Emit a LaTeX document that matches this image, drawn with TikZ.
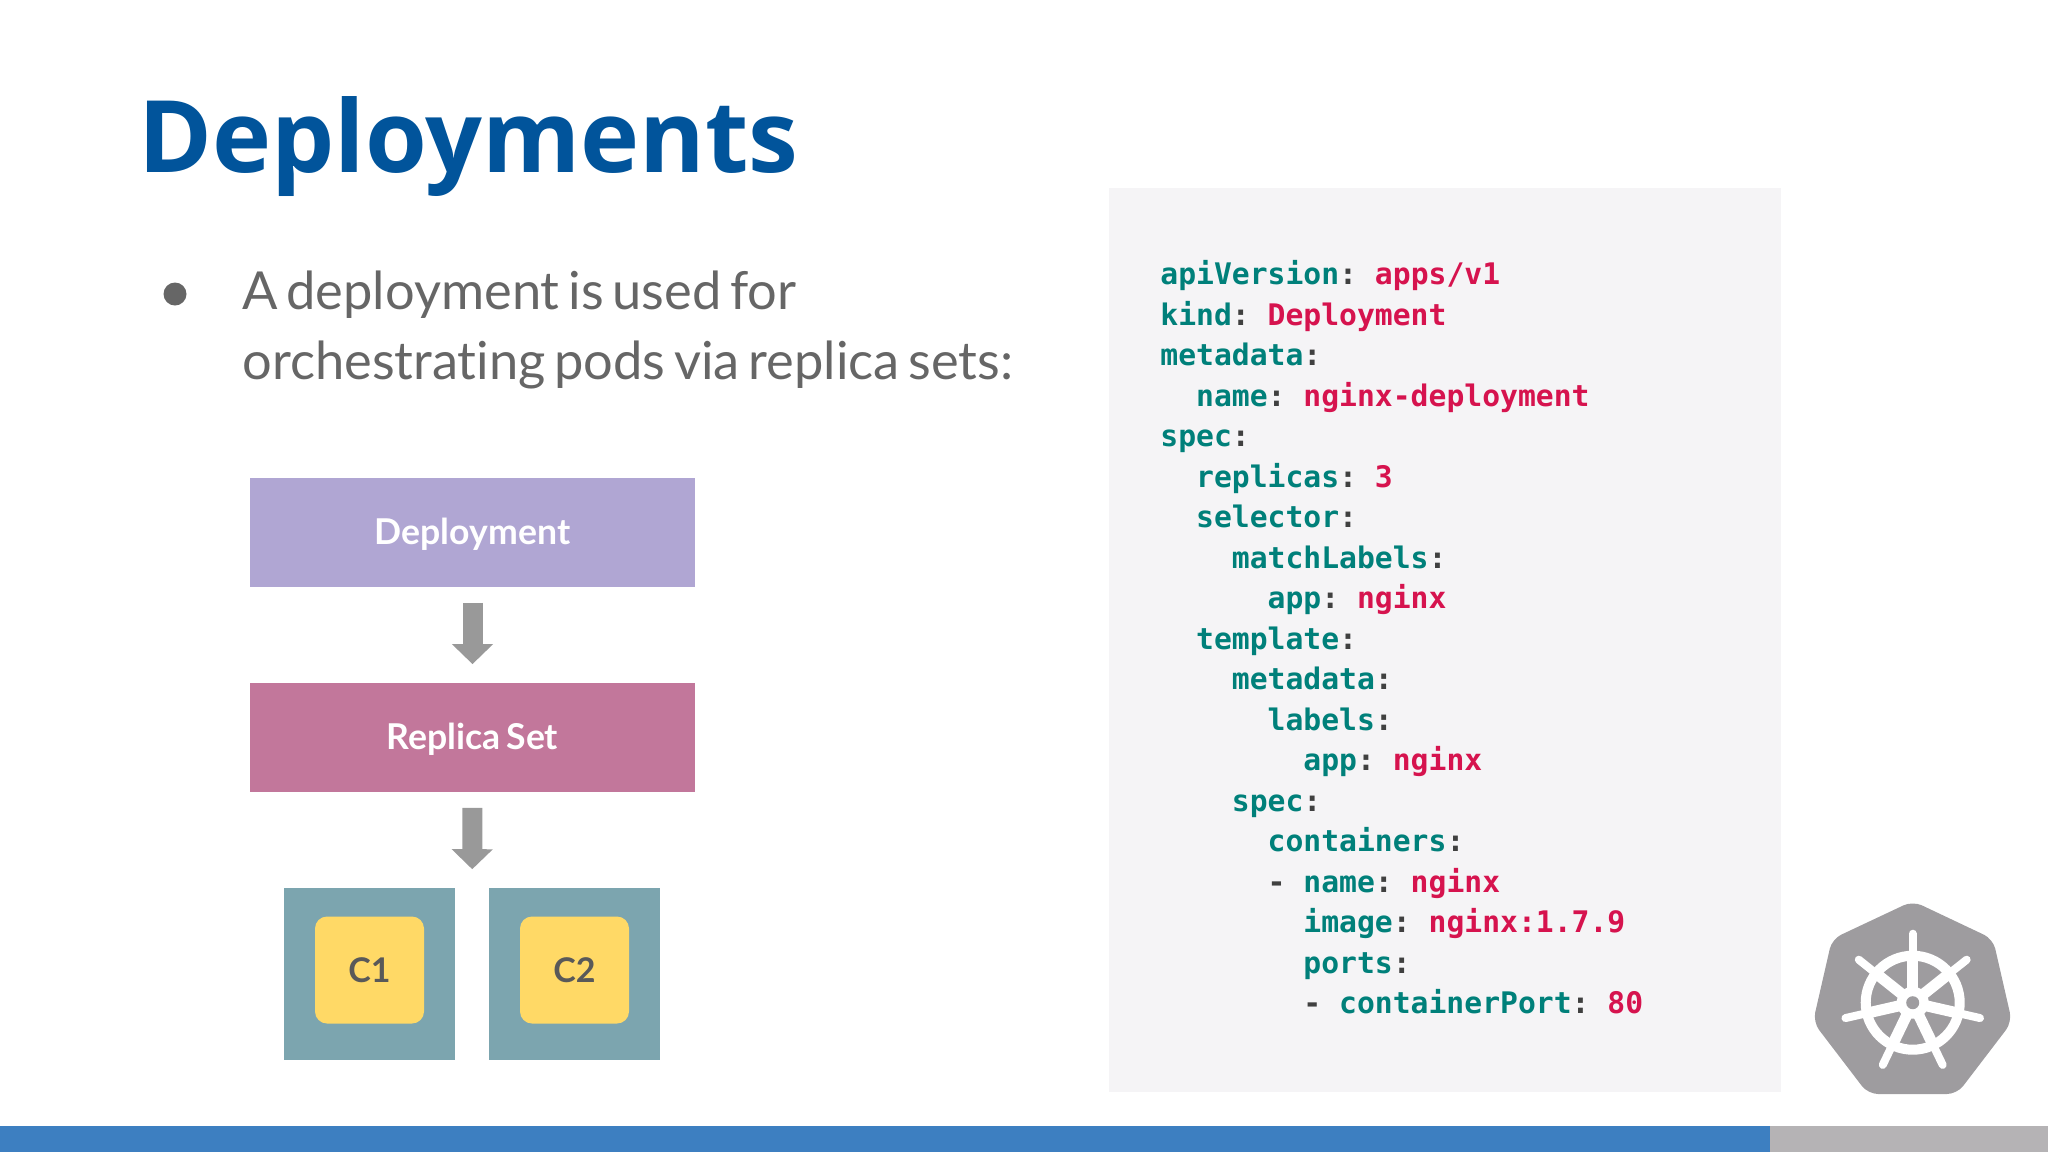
\documentclass[tikz,border=0pt]{standalone}
\usepackage{fontspec}
\setmainfont{Lato}[Ligatures=NoCommon,WordSpace=0.65]
\setmonofont{DejaVu Sans Mono}
\newfontfamily\titlefont{Open Sans}
\usepackage{xcolor}
\definecolor{kbtitle}{RGB}{1,84,155}
\definecolor{kbtext}{RGB}{102,102,102}
\definecolor{kblav}{RGB}{176,166,211}
\definecolor{kbmauve}{RGB}{194,119,155}
\definecolor{kbteal}{RGB}{124,165,175}
\definecolor{kbyellow}{RGB}{255,217,102}
\definecolor{kbarrow}{RGB}{153,153,153}
\definecolor{kbpanel}{RGB}{245,244,246}
\definecolor{kbkey}{RGB}{0,128,122}
\definecolor{kbval}{RGB}{214,19,78}
\definecolor{kbblue}{RGB}{61,127,193}
\definecolor{kbbar}{RGB}{181,179,181}
\definecolor{kblogo}{RGB}{158,156,159}
\usetikzlibrary{arrows.meta,positioning,calc,fit}
\newcommand{\ky}[1]{\textcolor{kbkey}{#1}\textcolor{black!75}{:}}
\newcommand{\vl}[1]{\textcolor{kbval}{#1}}
\newcommand{\ind}[1]{\hspace*{#1\dimexpr 8.94pt\relax}}
\tikzset{
  stagebox/.style={rectangle,inner sep=0pt,minimum width=222.5pt,minimum height=54.5pt,
    text height=13pt,text depth=1pt,text=white,font=\fontsize{17.8}{20}\selectfont\bfseries},
  podbox/.style={rectangle,fill=kbteal,inner sep=0pt,minimum width=85.5pt,minimum height=86pt},
  ctrbox/.style={rectangle,fill=kbyellow,rounded corners=6pt,inner sep=0pt,minimum width=54.5pt,
    minimum height=53.5pt,text=black!65,font=\fontsize{17}{20}\selectfont\bfseries},
  blockarrow/.style={-{Triangle[width=20pt,length=10pt]},line width=10pt,kbarrow}
}
\begin{document}
\begin{tikzpicture}[x=0.5pt,y=-0.5pt]
  \useasboundingbox (0,0) rectangle (2048,1152);
  % Title and bullet
  \node[anchor=base west,inner sep=0pt,text=kbtitle,font=\fontsize{50}{56}\selectfont\titlefont\bfseries] (title) at (138,172) {Deployments};
  \node[circle,fill=kbtext,inner sep=0pt,minimum size=11.5pt] (bullet) at (175,294) {};
  \node[anchor=base west,inner sep=0pt,text=kbtext,align=left,font=\fontsize{26.2}{35}\selectfont] (intro) at (242,379)
    {A deployment is used for\\orchestrating pods via replica sets:};
  % Stages
  \node[stagebox,fill=kblav] (deploy) at (472.5,532) {Deployment};
  \node[stagebox,fill=kbmauve] (replica) at (472.5,737) {Replica Set};
  % Pods
  \node[podbox] (pod1) at (369.5,974) {};
  \node[podbox] (pod2) at (574.5,974) {};
  \node[ctrbox] (c1) at (369.5,970) {C1};
  \node[ctrbox] (c2) at (574.5,970) {C2};
  \node[fit=(pod1)(pod2),inner sep=0pt] (pods) {};
  % Arrows
  \draw[blockarrow,shorten <=8pt,shorten >=9pt] (deploy) -- (replica);
  \draw[blockarrow,shorten <=8pt,shorten >=9pt] (replica) -- (pods);
  % Code
  \node[rectangle,fill=kbpanel,inner sep=0pt,minimum width=336pt,minimum height=452pt] (panel) at (1445,640) {};
  \node[anchor=north west,inner sep=0pt,align=left,font=\fontsize{14.85}{20.25}\selectfont\ttfamily\bfseries] (code) at (1160,260) {%
    \ky{apiVersion} \vl{apps/v1}\\
    \ky{kind} \vl{Deployment}\\
    \ky{metadata}\\
    \ind{2}\ky{name} \vl{nginx-deployment}\\
    \ky{spec}\\
    \ind{2}\ky{replicas} \vl{3}\\
    \ind{2}\ky{selector}\\
    \ind{4}\ky{matchLabels}\\
    \ind{6}\ky{app} \vl{nginx}\\
    \ind{2}\ky{template}\\
    \ind{4}\ky{metadata}\\
    \ind{6}\ky{labels}\\
    \ind{8}\ky{app} \vl{nginx}\\
    \ind{4}\ky{spec}\\
    \ind{6}\ky{containers}\\
    \ind{6}\textcolor{black!75}{-} \ky{name} \vl{nginx}\\
    \ind{8}\ky{image} \vl{nginx:1.7.9}\\
    \ind{8}\ky{ports}\\
    \ind{8}\textcolor{black!75}{-} \ky{containerPort} \vl{80}};
  % Logo
  \fill[kblogo,rounded corners=5pt] (1912.7,901) -- (1993,939) -- (2012,1022) -- (1957,1094)
    -- (1868,1094) -- (1813,1022) -- (1832,939) -- cycle;
  \coordinate (hub) at (1912.7,1002.7);
  \draw[white,line width=5pt] (hub) circle (47);
  \foreach \a in {0,...,6} {
    \draw[white,line width=4pt,line cap=round] (hub) -- ++({-90+\a*360/7}:69);
    \draw[white,line width=5.5pt] (hub) -- ++({-90+\a*360/7}:46);
  }
  \fill[white] (hub) circle (16);
  \fill[kblogo] (hub) circle (6.5);
  % Bottom bar
  \fill[kbblue] (0,1126) rectangle (1770,1152);
  \fill[kbbar] (1770,1126) rectangle (2048,1152);
\end{tikzpicture}
\end{document}
